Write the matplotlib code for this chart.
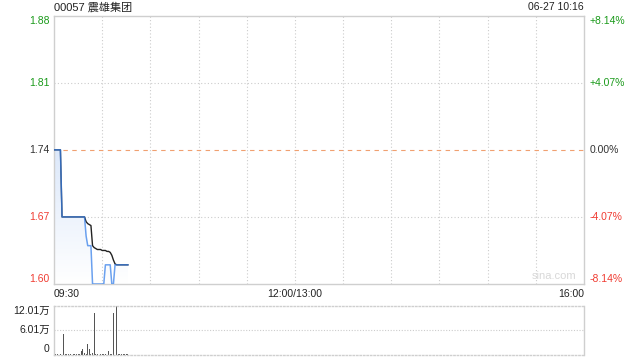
import numpy as np
import matplotlib
matplotlib.use('Agg')
import matplotlib.pyplot as plt
from matplotlib.colors import LinearSegmentedColormap

plt.rcParams['font.family'] = ['Liberation Sans', 'Noto Sans CJK SC']

# data (minutes after 09:30)
minutes = np.arange(47)
price = [1.74] * 5 + [1.67] * 15 + [1.65] + [1.64] * 3 + [1.60] * 8 + [1.62] * 4 + [1.60] * 2 + [1.62] * 9
avg = ([1.74] * 5 + [1.67] * 15 +
       [1.665, 1.663, 1.662, 1.661, 1.640, 1.638, 1.637, 1.636, 1.636, 1.636,
        1.635, 1.635, 1.635, 1.634, 1.634, 1.633, 1.630, 1.625, 1.621] + [1.62] * 8)
volume = [2000, 1000, 1000, 0, 1000, 1000, 49500, 1000, 2000, 1000,
          1000, 0, 1000, 1000, 2000, 1000, 1000, 8100, 13000, 4000,
          2000, 25000, 13000, 2000, 4000, 101500, 2000, 1000, 17800, 2000,
          1000, 1000, 2000, 1000, 8100, 1000, 2000, 101500, 52700, 120100,
          2000, 1000, 1000, 2000, 1000, 1000, 1000]

prev_close = 1.74
price_ticks = [1.88, 1.81, 1.74, 1.67, 1.60]
pct_labels = ['+8.14%', '+4.07%', '0.00%', '-4.07%', '-8.14%']
vol_ticks = [120100, 60050, 0]
vol_labels = ['12.01万', '6.01万', '0']
x_ticks = [0, 150, 330]
x_labels = ['09:30', '12:00/13:00', '16:00']

green = '#1a9a1a'
red = '#f03c32'
dark = '#333333'
grid_c = '#cccccc'
border_c = '#cfcfcf'

fig = plt.figure(figsize=(6.4, 3.6), dpi=100)
ax = fig.add_axes([54 / 640, 76 / 360, 530 / 640, 268.3 / 360])
axv = fig.add_axes([54 / 640, 5.5 / 360, 530 / 640, 49 / 360])

# price panel
ax.set_xlim(0, 330)
ax.set_ylim(1.60, 1.88)
for x in range(30, 330, 30):
    ax.axvline(x, color=grid_c, lw=0.8, ls=(0, (1, 2)), zorder=0)
for y in [1.81, 1.67]:
    ax.axhline(y, color=grid_c, lw=0.8, ls=(0, (1, 2)), zorder=0)
ax.axhline(prev_close, color='#f0a070', lw=0.8, ls=(0, (4, 4)), zorder=1)

# gradient fill under price line
poly = ax.fill_between(minutes, price, 1.60, color='none', lw=0)
cmap = LinearSegmentedColormap.from_list('fade', ['#ffffff', '#dce8fa'])
grad = np.linspace(0, 1, 100).reshape(-1, 1)
im = ax.imshow(grad, cmap=cmap, aspect='auto', origin='lower',
               extent=[0, 46, 1.60, 1.74], zorder=1)
im.set_clip_path(poly.get_paths()[0], transform=ax.transData)

ax.plot(minutes, avg, color='#222222', lw=1.0, zorder=3)
ax.plot(minutes, price, color='#3a82ea', lw=1.1, alpha=0.75, zorder=4)

ax.set_xticks([])
ax.set_yticks([])
for s in ax.spines.values():
    s.set_color(border_c)
    s.set_linewidth(1.0)

ycols = [green, green, dark, red, red]
vas = ['top', 'center', 'center', 'center', 'bottom']
for val, pl, c, va in zip(price_ticks, pct_labels, ycols, vas):
    ax.text(-0.008, val, f'{val:.2f}', transform=ax.get_yaxis_transform(),
            ha='right', va=va, fontsize=7.5, color=c)
    ax.text(1.01, val, pl, transform=ax.get_yaxis_transform(),
            ha='left', va=va, fontsize=7.5, color=c)

has = ['left', 'center', 'right']
for xv, lab, ha in zip(x_ticks, x_labels, has):
    ax.text(xv, -0.018, lab, transform=ax.get_xaxis_transform(),
            ha=ha, va='top', fontsize=7.5, color='#222222')

ax.text(0.0, 1.012, '00057 震雄集团', transform=ax.transAxes,
        ha='left', va='bottom', fontsize=8, color='#222222')
ax.text(1.0, 1.012, '06-27 10:16', transform=ax.transAxes,
        ha='right', va='bottom', fontsize=7.5, color='#222222')
ax.text(0.985, 0.012, 'sina.com', transform=ax.transAxes,
        ha='right', va='bottom', fontsize=8, color='#d8d8d8')

# volume panel
axv.set_xlim(0, 330)
axv.set_ylim(0, max(volume))
axv.bar(minutes, volume, width=0.55, color='#555555', zorder=2)
axv.axhline(max(volume) / 2, color=grid_c, lw=0.8, ls=(0, (1, 1.5)), zorder=0)
axv.set_xticks([])
axv.set_yticks([])
for k in ['top', 'bottom']:
    axv.spines[k].set_linestyle((0, (1, 1.5)))
for s in axv.spines.values():
    s.set_color(border_c)
    s.set_linewidth(1.0)

vvas = ['top', 'center', 'bottom']
for val, lab, va in zip(vol_ticks, vol_labels, vvas):
    axv.text(-0.008, val, lab, transform=axv.get_yaxis_transform(),
             ha='right', va=va, fontsize=7.5, color='#222222')

fig.savefig('out.png', dpi=100)
